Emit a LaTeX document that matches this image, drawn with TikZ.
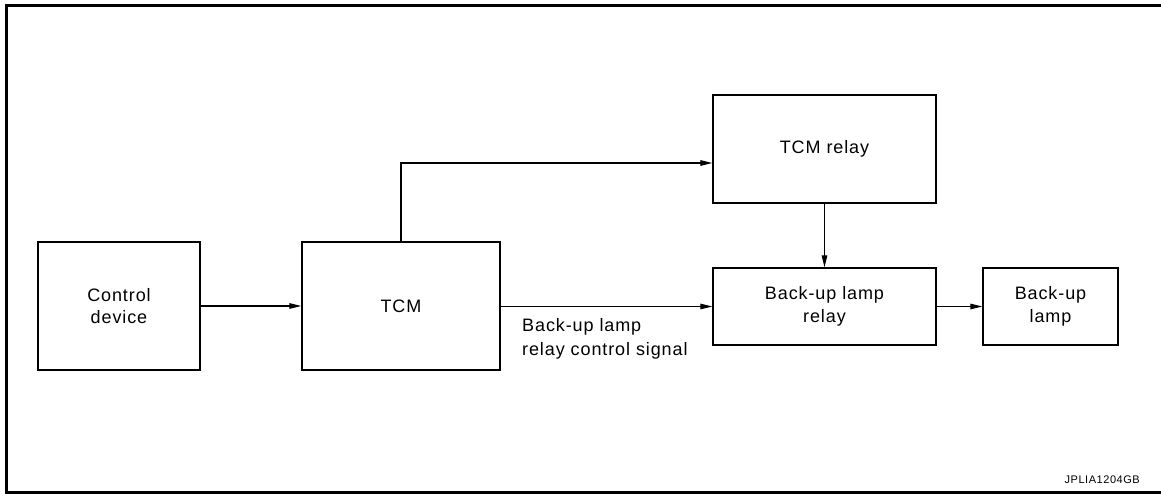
\documentclass[tikz,border=0pt]{standalone}
\usepackage{fontspec}
\setmainfont{Liberation Sans}[LetterSpace=5]
\usetikzlibrary{arrows.meta}
\tikzset{
  blk/.style={draw, line width=1.3pt, align=center, inner sep=0pt, font=\fontsize{18}{22.5}\selectfont},
  conn/.style={line width=1.1pt, -{Triangle[length=12pt,width=5.5pt]}},
  lbl/.style={align=left, inner sep=0pt, font=\fontsize{18}{24.5}\selectfont},
}
\begin{document}
\begin{tikzpicture}[x=1pt,y=-1pt]
\useasboundingbox (0,0) rectangle (1161,494);
\draw[line width=3pt] (1161,6) -- (6.5,6) -- (6.5,492.5) -- (1161,492.5);
\node[blk, minimum width=162pt, minimum height=128pt] (ctrl) at (119,306) {Control\\device};
\node[blk, minimum width=198pt, minimum height=128pt] (tcm) at (401,306) {TCM};
\node[blk, minimum width=223pt, minimum height=108pt] (tcmr) at (824.5,149) {TCM relay};
\node[blk, minimum width=223pt, minimum height=77pt] (blr) at (824.5,306.5) {Back-up lamp\\relay};
\node[blk, minimum width=135pt, minimum height=77pt] (bl) at (1050.5,306.5) {Back-up\\lamp};
\coordinate (e) at ([yshift=-14pt]tcmr.west);
\draw[conn] (ctrl.east |- tcm.west) -- (tcm.west);
\draw[conn] (tcm.east |- blr.west) -- (blr.west);
\draw[conn] (tcm.north) |- (e);
\draw[conn] (tcmr.south) -- (blr.north);
\draw[conn] (blr.east) -- (bl.west);
\node[lbl, anchor=north west] (sig) at (522,318) {Back-up lamp\\relay control signal};
\node[inner sep=0pt, anchor=east, font=\fontsize{11}{13}\selectfont] (id) at (1140,480) {JPLIA1204GB};
\end{tikzpicture}
\end{document}
